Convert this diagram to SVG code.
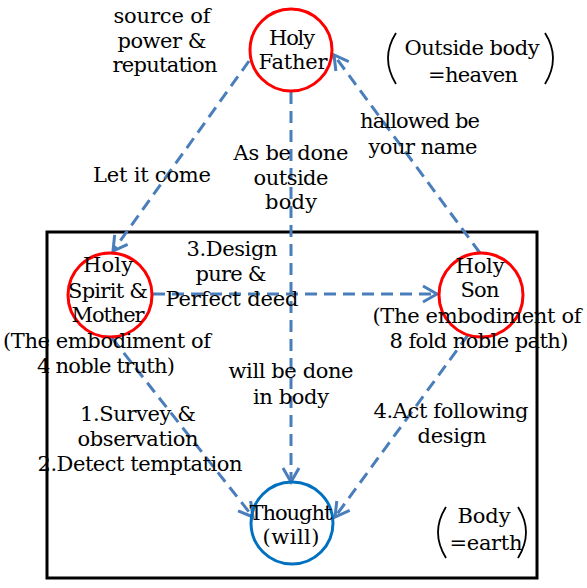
<svg xmlns="http://www.w3.org/2000/svg" width="587" height="588" viewBox="0 0 587 588">
<style>
text{font-family:"DejaVu Serif","Liberation Serif",serif;font-size:21px;fill:#000;text-anchor:middle}
.red{fill:none;stroke:#ff0000;stroke-width:3}
.blue{fill:none;stroke:#0070c0;stroke-width:3}
.conn{fill:none;stroke:#4a7ebb;stroke-width:3;stroke-dasharray:12 7;marker-end:url(#arr)}
.br{fill:none;stroke:#000;stroke-width:1.8}
</style>
<defs>
<marker id="arr" markerUnits="userSpaceOnUse" markerWidth="20" markerHeight="20" viewBox="0 0 20 20" refX="17" refY="10" orient="auto">
<path d="M3,2 L17,10 L3,18" fill="none" stroke="#4a7ebb" stroke-width="3"/>
</marker>
</defs>
<rect id="body-frame" x="47" y="232" width="490" height="346" fill="none" stroke="#000" stroke-width="3"/>
<g id="connectors">
<line class="conn" x1="249" y1="61" x2="113" y2="251"/>
<line class="conn" x1="480" y1="253" x2="334" y2="55"/>
<line class="conn" x1="291" y1="92" x2="291" y2="482"/>
<line class="conn" x1="153" y1="294" x2="437" y2="294"/>
<line class="conn" x1="112" y1="338" x2="253" y2="517"/>
<line class="conn" x1="468" y1="335" x2="335" y2="517"/>
</g>
<g id="father">
<circle class="red" cx="291" cy="50" r="41"/>
<text x="292" y="45" textLength="46">Holy</text>
<text x="293" y="69" textLength="69">Father</text>
</g>
<g id="spirit">
<circle class="red" cx="110" cy="295" r="42"/>
<text x="108" y="272" textLength="50">Holy</text>
<text x="108" y="298" textLength="80">Spirit &amp;</text>
<text x="108" y="322" textLength="73">Mother</text>
<text x="107" y="348" textLength="208">(The embodiment of</text>
<text x="106" y="373" textLength="138">4 noble truth)</text>
</g>
<g id="son">
<circle class="red" cx="481" cy="295" r="42"/>
<text x="480" y="273" textLength="49">Holy</text>
<text x="480" y="297" textLength="39">Son</text>
<text x="477" y="323" textLength="209">(The embodiment of</text>
<text x="479" y="348" textLength="179">8 fold noble path)</text>
</g>
<g id="thought">
<circle class="blue" cx="292" cy="523" r="41"/>
<text x="291" y="520" textLength="83">Thought</text>
<text x="291" y="544" textLength="57">(will)</text>
</g>
<g id="labels">
<text x="162" y="23" textLength="97">source of</text>
<text x="162" y="48" textLength="89">power &amp;</text>
<text x="165" y="72" textLength="105">reputation</text>
<text x="152" y="182" textLength="118">Let it come</text>
<text x="291" y="160" textLength="115">As be done</text>
<text x="291" y="185" textLength="75">outside</text>
<text x="291" y="209" textLength="52">body</text>
<text x="420" y="128" textLength="120">hallowed be</text>
<text x="423" y="154" textLength="109">your name</text>
<text x="232" y="256" textLength="91">3.Design</text>
<text x="231" y="281" textLength="71">pure &amp;</text>
<text x="232" y="306" textLength="133">Perfect deed</text>
<text x="291" y="378" textLength="125">will be done</text>
<text x="291" y="404" textLength="76">in body</text>
<text x="138" y="421" textLength="116">1.Survey &amp;</text>
<text x="138" y="446" textLength="121">observation</text>
<text x="140" y="471" textLength="205">2.Detect temptation</text>
<text x="451" y="418" textLength="155">4.Act following</text>
<text x="452" y="443" textLength="69">design</text>
</g>
<g id="heaven-note">
<path class="br" d="M396,33 Q380,58 396,84"/>
<path class="br" d="M545,33 Q561,58 545,84"/>
<text x="472" y="55" textLength="135">Outside body</text>
<text x="473" y="82" textLength="90">=heaven</text>
</g>
<g id="earth-note">
<path class="br" d="M446,507 Q430,532 446,558"/>
<path class="br" d="M518,507 Q534,532 518,558"/>
<text x="484" y="523" textLength="53">Body</text>
<text x="486" y="550" textLength="73">=earth</text>
</g>
</svg>
